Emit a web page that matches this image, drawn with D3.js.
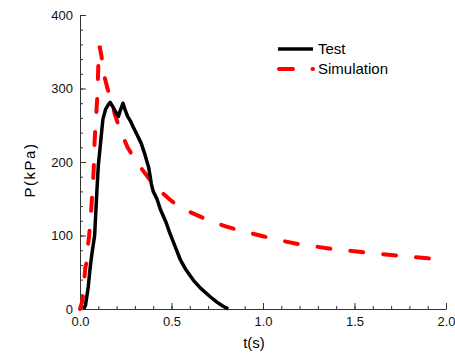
<!DOCTYPE html>
<html>
<head>
<meta charset="utf-8">
<script src="https://cdn.jsdelivr.net/npm/d3@7/dist/d3.min.js"></script>
<style>
  body { margin: 0; background: #fff; }
  svg { display: block; font-family: "Liberation Sans", Arial, sans-serif; }
</style>
</head>
<body>
<svg id="chart" width="455" height="355"></svg>
<script>
// Test curve (t in s, P in kPa)
const testT = [0.02, 0.03, 0.045, 0.055, 0.065, 0.08, 0.09, 0.1, 0.11, 0.125, 0.14, 0.155, 0.165, 0.18, 0.195, 0.21, 0.22, 0.235, 0.245, 0.26, 0.275, 0.29, 0.31, 0.335, 0.355, 0.375, 0.39, 0.4, 0.42, 0.44, 0.47, 0.49, 0.52, 0.55, 0.58, 0.62, 0.66, 0.71, 0.75, 0.78, 0.81];
const testP = [0, 5, 30, 55, 75, 100, 150, 195, 220, 258, 272, 278, 281, 275, 268, 262, 270, 280, 272, 262, 256, 248, 238, 225, 210, 193, 170, 160, 150, 135, 118, 104, 85, 66, 53, 39, 28, 17, 9, 4, 0];

// Simulation curve
const simT = [0, 0.01, 0.018, 0.025, 0.03, 0.035, 0.04, 0.045, 0.05, 0.06, 0.07, 0.075, 0.08, 0.085, 0.09, 0.095, 0.1, 0.107, 0.12, 0.135, 0.15, 0.17, 0.19, 0.22, 0.26, 0.3, 0.33, 0.37, 0.4, 0.45, 0.5, 0.55, 0.6, 0.7, 0.8, 0.9, 1.0, 1.1, 1.2, 1.3, 1.4, 1.5, 1.6, 1.7, 1.8, 1.9, 2.0];
const simP = [0, 8, 20, 45, 58, 62, 75, 90, 100, 130, 170, 190, 230, 250, 270, 290, 330, 358, 340, 315, 300, 285, 265, 243, 220, 203, 193, 180, 170, 158, 147, 138, 132, 121, 112, 105, 99, 93, 88, 84.5, 81, 78.5, 76, 73.5, 71, 69, 67];

const xTicks = [0, 0.5, 1.0, 1.5, 2.0];
const yTicks = [0, 100, 200, 300, 400];
const seriesNames = ['Test', 'Simulation'];

const svg = d3.select('#chart');
const x = d3.scaleLinear().domain([0, 2]).range([80, 446]);
const y = d3.scaleLinear().domain([0, 400]).range([309, 15]);

// minor ticks
svg.append('g')
    .attr('transform', 'translate(0,309)')
    .call(d3.axisBottom(x).tickValues(d3.range(0, 2.001, 0.1)).tickSize(-3).tickFormat(''))
    .call(g => g.select('.domain').remove());
svg.append('g')
    .attr('transform', 'translate(80,0)')
    .call(d3.axisLeft(y).tickValues(d3.range(0, 401, 20)).tickSize(-3).tickFormat(''))
    .call(g => g.select('.domain').remove());

// major axes
svg.append('g')
    .attr('transform', 'translate(0,309)')
    .call(d3.axisBottom(x).tickValues(xTicks).tickSizeInner(-6).tickSizeOuter(0)
        .tickPadding(8).tickFormat(d3.format('.1f')));
svg.append('g')
    .attr('transform', 'translate(80,0)')
    .call(d3.axisLeft(y).tickValues(yTicks).tickSizeInner(-6).tickSizeOuter(0)
        .tickPadding(7).tickFormat(d3.format('d')));

svg.selectAll('.tick text')
    .style('font-size', '13px')
    .style('font-family', '"Liberation Sans", Arial, sans-serif')
    .attr('fill', '#111');
svg.selectAll('.tick line, .domain').attr('stroke', '#333');

// axis titles
svg.append('text')
    .attr('x', 254).attr('y', 348)
    .attr('text-anchor', 'middle')
    .style('font-size', '15px')
    .text('t(s)');
svg.append('text')
    .attr('transform', 'translate(35,170) rotate(-90)')
    .attr('text-anchor', 'middle')
    .style('font-size', '15px')
    .style('letter-spacing', '1.5px')
    .text('P(kPa)');

const line = d3.line().x(d => x(d[0])).y(d => y(d[1]));

svg.append('path')
    .datum(d3.zip(simT, simP))
    .attr('d', line)
    .attr('fill', 'none')
    .attr('stroke', '#ff0000')
    .attr('stroke-width', 4)
    .attr('stroke-linecap', 'round')
    .attr('stroke-dasharray', '13,20');

svg.append('path')
    .datum(d3.zip(testT, testP))
    .attr('d', line)
    .attr('fill', 'none')
    .attr('stroke', '#000')
    .attr('stroke-width', 3.5)
    .attr('stroke-linejoin', 'round');

// legend
const legend = svg.append('g');
seriesNames.forEach((name, i) => {
    const ly = 49 + i * 20;
    const l = legend.append('line')
        .attr('y1', ly).attr('y2', ly);
    if (i === 0) {
        l.attr('x1', 278).attr('x2', 313)
            .attr('stroke', '#000').attr('stroke-width', 3.5);
    } else {
        l.attr('x1', 279).attr('x2', 313)
            .attr('stroke', '#ff0000').attr('stroke-width', 4)
            .attr('stroke-linecap', 'round').attr('stroke-dasharray', '14,19.5');
    }
    legend.append('text')
        .attr('x', 318).attr('y', ly + 5)
        .style('font-size', '15px')
        .text(name);
});
</script>
</body>
</html>
